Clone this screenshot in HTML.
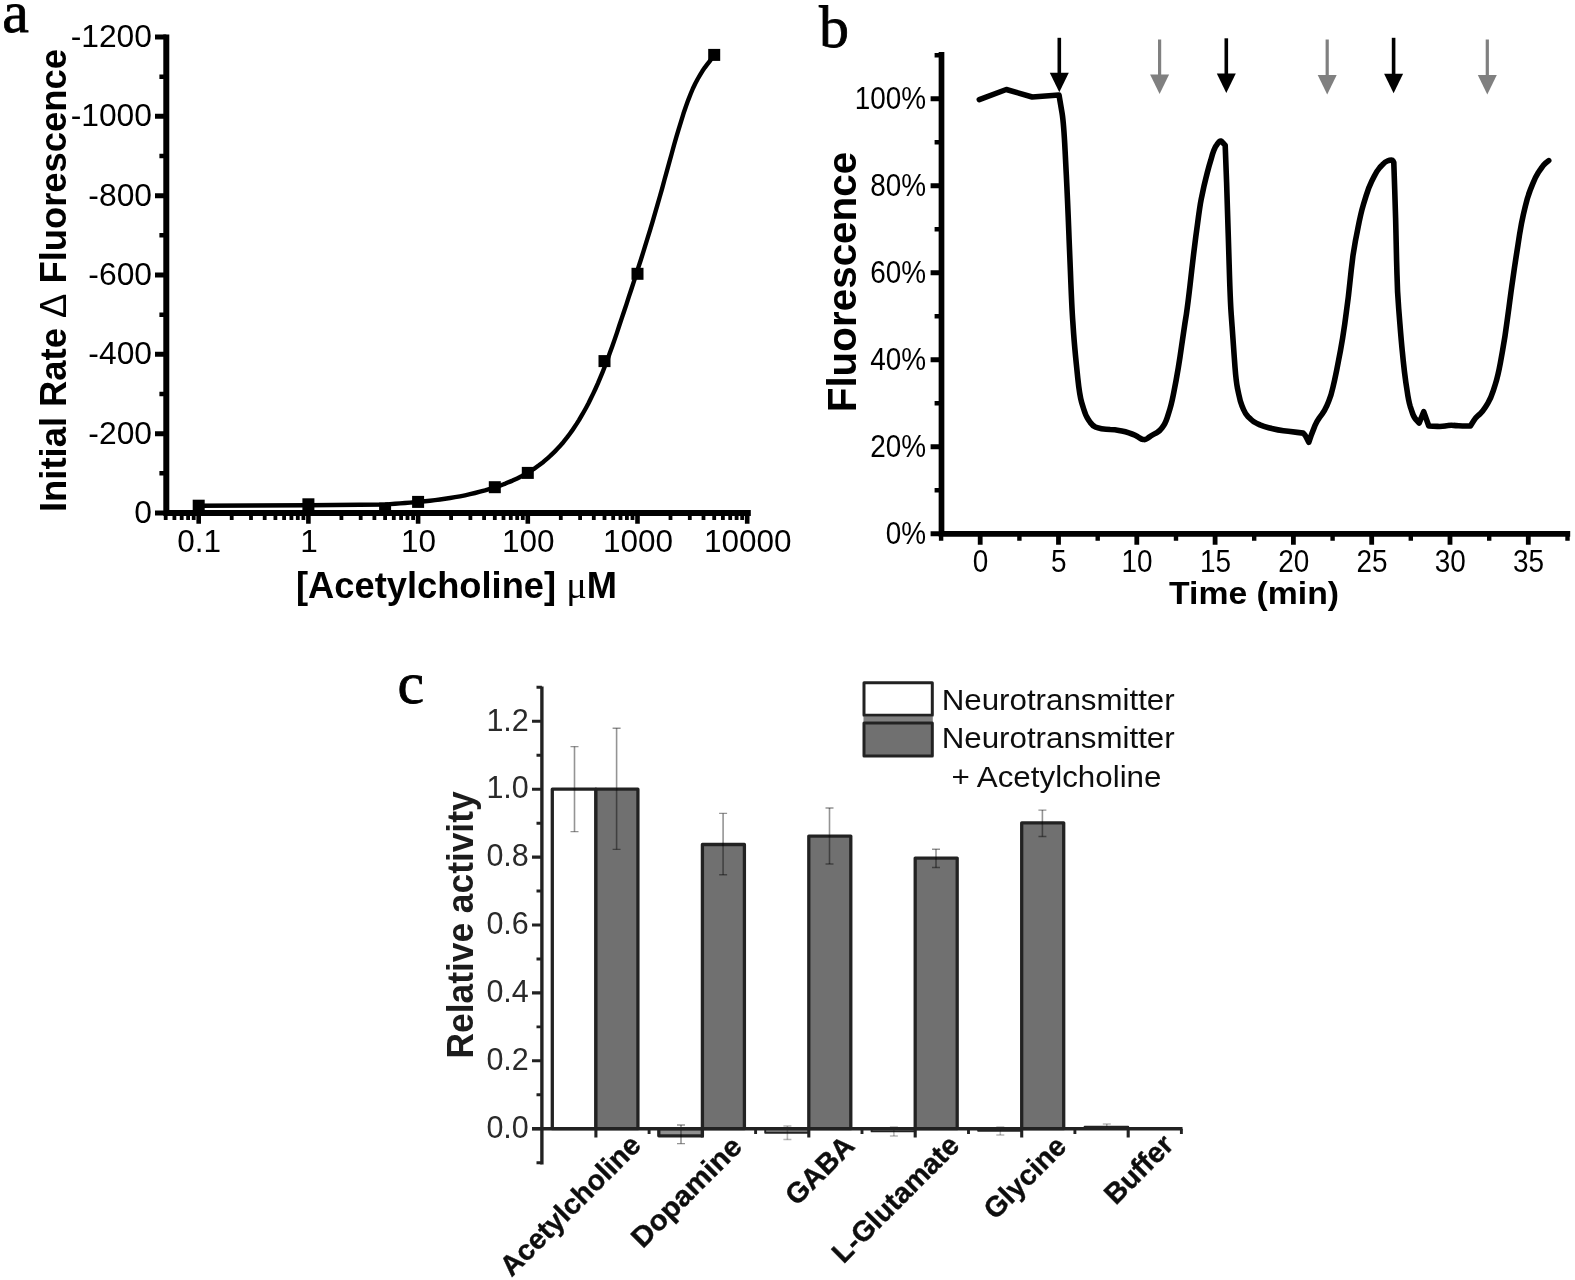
<!DOCTYPE html>
<html><head><meta charset="utf-8"><title>Figure</title>
<style>html,body{margin:0;padding:0;background:#fff;}svg{display:block;}</style></head>
<body><svg width="1575" height="1280" viewBox="0 0 1575 1280">
<defs><filter id="soft" x="0" y="0" width="1575" height="1280" filterUnits="userSpaceOnUse"><feGaussianBlur stdDeviation="0.6"/></filter></defs>
<rect width="1575" height="1280" fill="#fff"/>
<g filter="url(#soft)">
<g id="pa" stroke="#000" fill="none">
<path d="M166.3 34.4 V516.0 M163.3 513.0 H750.8" stroke-width="6.0"/>
<path d="M155 513.0 H166.3 M155 433.7 H166.3 M155 354.3 H166.3 M155 275.0 H166.3 M155 195.7 H166.3 M155 116.3 H166.3 M155 37.0 H166.3 " stroke-width="5.0"/>
<path d="M159.4 473.3 H166.3 M159.4 394.0 H166.3 M159.4 314.7 H166.3 M159.4 235.3 H166.3 M159.4 156.0 H166.3 M159.4 76.7 H166.3 " stroke-width="4.6"/>
<path d="M198.7 513.0 V523.7 M308.4 513.0 V523.7 M418.1 513.0 V523.7 M527.8 513.0 V523.7 M637.5 513.0 V523.7 M747.2 513.0 V523.7 " stroke-width="4.6"/>
<path d="M165.7 513.0 V520 M174.4 513.0 V520 M181.7 513.0 V520 M188.1 513.0 V520 M193.7 513.0 V520 M231.7 513.0 V520 M251.0 513.0 V520 M264.7 513.0 V520 M275.4 513.0 V520 M284.1 513.0 V520 M291.4 513.0 V520 M297.8 513.0 V520 M303.4 513.0 V520 M341.4 513.0 V520 M360.7 513.0 V520 M374.4 513.0 V520 M385.1 513.0 V520 M393.8 513.0 V520 M401.1 513.0 V520 M407.5 513.0 V520 M413.1 513.0 V520 M451.1 513.0 V520 M470.4 513.0 V520 M484.1 513.0 V520 M494.8 513.0 V520 M503.5 513.0 V520 M510.8 513.0 V520 M517.2 513.0 V520 M522.8 513.0 V520 M560.8 513.0 V520 M580.1 513.0 V520 M593.8 513.0 V520 M604.5 513.0 V520 M613.2 513.0 V520 M620.5 513.0 V520 M626.9 513.0 V520 M632.5 513.0 V520 M670.5 513.0 V520 M689.8 513.0 V520 M703.5 513.0 V520 M714.2 513.0 V520 M722.9 513.0 V520 M730.2 513.0 V520 M736.6 513.0 V520 M742.2 513.0 V520 " stroke-width="3.8"/>
<polyline points="198.7,505.8 308.4,505.2 385.0,504.5 390.0,504.1 395.0,503.8 400.0,503.4 405.0,503.0 410.0,502.6 415.0,502.2 420.0,501.7 425.0,501.2 430.0,500.7 435.0,500.1 440.0,499.5 445.0,498.8 450.0,498.0 455.0,497.2 460.0,496.3 465.0,495.3 470.0,494.2 475.0,493.0 480.0,491.7 485.0,490.4 490.0,488.9 495.0,487.3 500.0,485.6 503.0,484.5 505.4,483.6 507.7,482.6 510.1,481.6 512.5,480.6 514.9,479.5 517.2,478.4 519.6,477.2 522.0,476.0 524.4,474.7 526.7,473.3 529.1,471.9 531.5,470.4 533.9,468.9 536.2,467.2 538.6,465.5 541.0,463.7 543.4,461.9 545.7,459.9 548.1,457.8 550.5,455.7 552.9,453.4 555.2,451.1 557.6,448.6 560.0,446.0 562.4,443.3 564.7,440.4 567.1,437.4 569.5,434.2 571.9,430.9 574.2,427.5 576.6,423.9 579.0,420.1 581.3,416.1 583.7,412.0 586.1,407.7 588.5,403.2 590.8,398.5 593.2,393.6 595.6,388.5 598.0,383.1 600.3,377.6 602.7,371.8 605.1,365.8 607.5,359.6 609.8,353.1 612.2,346.5 614.6,339.6 617.0,332.6 619.3,325.5 621.7,318.4 624.1,311.2 626.5,304.1 628.8,296.9 631.2,289.7 633.6,282.4 636.0,275.1 638.3,267.7 640.7,260.3 643.1,252.7 645.4,245.1 647.8,237.4 650.2,229.6 652.6,221.6 654.9,213.6 657.3,205.4 659.7,197.0 662.1,188.6 664.4,180.0 666.8,171.3 669.2,162.6 671.6,154.0 673.9,145.5 676.3,137.2 678.7,129.1 681.1,121.3 683.4,113.8 685.8,106.7 688.2,100.1 690.6,94.0 692.9,88.5 695.3,83.5 697.7,79.0 700.1,74.9 702.4,71.1 704.8,67.6 707.2,64.4 709.6,61.3 711.9,58.2 714.3,55.2" stroke-width="4.4" stroke-linejoin="round"/>
<rect x="192.7" y="499.7" width="12" height="12" fill="#000" stroke="none"/>
<rect x="302.4" y="498.3" width="12" height="12" fill="#000" stroke="none"/>
<rect x="379.1" y="502.6" width="12" height="12" fill="#000" stroke="none"/>
<rect x="412.1" y="495.9" width="12" height="12" fill="#000" stroke="none"/>
<rect x="488.8" y="481.2" width="12" height="12" fill="#000" stroke="none"/>
<rect x="521.8" y="466.9" width="12" height="12" fill="#000" stroke="none"/>
<rect x="598.5" y="355.1" width="12" height="12" fill="#000" stroke="none"/>
<rect x="631.5" y="267.8" width="12" height="12" fill="#000" stroke="none"/>
<rect x="708.2" y="48.9" width="12" height="12" fill="#000" stroke="none"/>
</g>
<g font-family='"Liberation Sans", sans-serif' font-size="31.5" fill="#000">
<text transform="translate(152 522.8) scale(1.01 1)" text-anchor="end">0</text>
<text transform="translate(152 443.5) scale(1.01 1)" text-anchor="end">-200</text>
<text transform="translate(152 364.1) scale(1.01 1)" text-anchor="end">-400</text>
<text transform="translate(152 284.8) scale(1.01 1)" text-anchor="end">-600</text>
<text transform="translate(152 205.5) scale(1.01 1)" text-anchor="end">-800</text>
<text transform="translate(152 126.1) scale(1.01 1)" text-anchor="end">-1000</text>
<text transform="translate(152 46.8) scale(1.01 1)" text-anchor="end">-1200</text>
<text x="199.2" y="551.5" text-anchor="middle">0.1</text>
<text x="308.9" y="551.5" text-anchor="middle">1</text>
<text x="418.6" y="551.5" text-anchor="middle">10</text>
<text x="528.3" y="551.5" text-anchor="middle">100</text>
<text x="638.0" y="551.5" text-anchor="middle">1000</text>
<text x="747.7" y="551.5" text-anchor="middle">10000</text>
</g>
<text transform="translate(65.5 512) rotate(-90)" font-family='"Liberation Sans", sans-serif' font-weight="bold" font-size="36" textLength="463" lengthAdjust="spacingAndGlyphs">Initial Rate <tspan font-weight="normal">Δ</tspan> Fluorescence</text>
<text x="296" y="597.5" font-family='"Liberation Sans", sans-serif' font-weight="bold" font-size="36" textLength="321" lengthAdjust="spacingAndGlyphs">[Acetylcholine] <tspan font-family='"Liberation Serif", serif' font-weight="normal" font-size="38">μ</tspan>M</text>
<text x="2.3" y="32.4" font-family='"Liberation Serif", serif' font-size="60" stroke="#000" stroke-width="0.8">a</text>
<g id="pb" stroke="#000" fill="none">
<path d="M941.5 52 V536.65 M938.65 533.8 H1570.2" stroke-width="5.7"/>
<path d="M930.6 533.8 H941.5 M930.6 446.8 H941.5 M930.6 359.8 H941.5 M930.6 272.8 H941.5 M930.6 185.8 H941.5 M930.6 98.8 H941.5 " stroke-width="5.0"/>
<path d="M934.6 490.3 H941.5 M934.6 403.3 H941.5 M934.6 316.3 H941.5 M934.6 229.3 H941.5 M934.6 142.3 H941.5 M934.6 55.3 H941.5 " stroke-width="4.6"/>
<path d="M980.2 533.8 V544.8 M1058.5 533.8 V544.8 M1136.8 533.8 V544.8 M1215.1 533.8 V544.8 M1293.4 533.8 V544.8 M1371.7 533.8 V544.8 M1450.0 533.8 V544.8 M1528.3 533.8 V544.8 " stroke-width="4.8"/>
<path d="M941.1 533.8 V540.8 M1019.4 533.8 V540.8 M1097.7 533.8 V540.8 M1176.0 533.8 V540.8 M1254.2 533.8 V540.8 M1332.6 533.8 V540.8 M1410.8 533.8 V540.8 M1489.2 533.8 V540.8 M1567.5 533.8 V540.8 " stroke-width="4.4"/>
<path d="M979.3 99.6 L1006.3 89.5 L1032.2 97.0 L1059.0 95.0 L1062.1 113.2 Q1063.7 123.0 1065.1 150.8 L1066.3 174.5 Q1067.7 202.3 1069.1 239.3 L1070.4 271.0 Q1071.8 308.0 1072.8 321.5 L1073.6 333.2 Q1074.6 346.7 1076.3 363.8 L1077.8 378.4 Q1079.6 395.5 1081.7 402.6 L1083.6 408.8 Q1085.7 415.9 1088.2 419.4 L1090.3 422.5 Q1092.8 426.0 1095.7 427.1 L1098.1 427.9 Q1101.0 429.0 1106.0 429.2 L1110.2 429.5 Q1115.2 429.7 1118.8 430.4 L1121.8 431.0 Q1125.4 431.7 1128.9 432.9 L1132.0 434.0 Q1135.5 435.2 1137.6 436.6 L1139.5 437.8 Q1141.6 439.2 1143.0 439.4 L1144.3 439.6 Q1145.7 439.8 1147.5 438.4 L1149.0 437.2 Q1150.8 435.8 1154.0 434.1 L1156.7 432.7 Q1159.9 431.0 1162.0 427.9 L1163.9 425.1 Q1166.0 422.0 1168.1 414.9 L1170.0 408.7 Q1172.1 401.6 1174.2 390.2 L1176.1 380.4 Q1178.2 369.0 1180.0 357.0 L1181.5 346.6 Q1183.3 334.6 1184.9 323.5 L1186.4 314.1 Q1188.0 303.0 1190.0 285.5 L1191.7 270.5 Q1193.7 253.0 1195.8 236.7 L1197.7 222.6 Q1199.8 206.3 1201.2 199.2 L1202.5 193.1 Q1203.9 186.0 1205.7 179.0 L1207.2 173.0 Q1209.0 166.0 1210.8 160.2 L1212.2 155.2 Q1214.0 149.4 1215.2 147.3 L1216.3 145.6 Q1217.5 143.5 1218.7 142.4 L1219.6 141.4 Q1220.8 140.3 1222.3 142.1 L1225.2 145.4 L1226.6 182.4 Q1227.3 202.3 1228.3 236.5 L1229.2 265.8 Q1230.2 300.0 1231.2 314.2 L1232.1 326.5 Q1233.1 340.7 1234.1 354.9 L1235.0 367.1 Q1236.1 381.3 1237.5 388.4 L1238.8 394.5 Q1240.2 401.6 1242.0 405.9 L1243.5 409.5 Q1245.3 413.8 1248.1 416.7 L1250.6 419.1 Q1253.4 422.0 1257.0 423.5 L1260.0 424.9 Q1263.6 426.4 1268.6 427.7 L1272.8 428.7 Q1277.8 430.0 1283.5 430.7 L1288.3 431.3 Q1294.0 432.0 1297.2 432.4 L1303.2 433.1 L1304.5 434.5 Q1305.2 435.2 1306.5 437.7 L1308.8 442.3 L1311.1 435.7 Q1312.4 432.1 1313.8 428.6 L1315.0 425.5 Q1316.4 422.0 1319.3 417.9 L1321.9 414.4 Q1324.8 410.3 1327.0 405.3 L1328.8 401.0 Q1331.0 396.0 1332.9 387.5 L1334.6 380.1 Q1336.5 371.6 1338.6 360.2 L1340.5 350.4 Q1342.6 339.0 1344.7 324.3 L1346.4 311.7 Q1348.5 297.0 1349.9 282.6 L1351.2 270.4 Q1352.6 256.0 1355.4 241.1 L1357.9 228.3 Q1360.7 213.4 1363.5 204.2 L1366.0 196.2 Q1368.8 187.0 1371.7 181.3 L1374.1 176.4 Q1377.0 170.7 1379.8 167.5 L1382.3 164.8 Q1385.1 161.6 1387.6 160.9 L1389.7 160.3 Q1392.2 159.6 1392.8 160.7 L1393.8 162.6 L1394.7 189.1 Q1395.2 203.3 1395.6 217.9 L1395.9 230.4 Q1396.3 245.0 1396.6 261.0 L1397.0 274.8 Q1397.3 290.8 1398.7 308.6 L1399.9 323.8 Q1401.3 341.6 1402.4 352.3 L1403.3 361.4 Q1404.4 372.1 1405.8 382.1 L1407.1 390.6 Q1408.5 400.6 1410.2 406.3 L1411.8 411.1 Q1413.5 416.8 1415.5 419.0 L1419.2 423.0 L1423.7 411.7 L1428.8 426.0 L1437.4 426.4 Q1442.0 426.6 1445.2 426.0 L1447.9 425.6 Q1451.1 425.0 1453.6 425.4 L1455.8 425.6 Q1458.3 426.0 1462.5 426.0 L1470.4 426.0 L1473.7 420.7 Q1475.5 417.8 1478.0 415.7 L1480.1 413.8 Q1482.6 411.7 1485.5 407.1 L1487.9 403.1 Q1490.8 398.5 1493.3 390.7 L1495.4 384.0 Q1497.9 376.2 1500.4 362.7 L1502.5 351.1 Q1505.0 337.6 1507.1 321.2 L1509.0 307.2 Q1511.1 290.8 1512.9 278.6 L1514.4 268.2 Q1516.2 256.0 1518.0 244.7 L1519.5 234.9 Q1521.3 223.6 1523.4 214.4 L1525.3 206.4 Q1527.4 197.2 1530.2 190.1 L1532.7 183.9 Q1535.5 176.8 1538.3 172.5 L1540.8 168.9 Q1543.6 164.6 1545.4 163.2 L1548.7 160.6" stroke-width="5.6" stroke-linejoin="round" stroke-linecap="round"/>
</g>
<path d="M1059.3 37.8 V80.3" stroke="#000" stroke-width="3.6" fill="none"/><path d="M1049.8 72.8 H1068.8 L1059.3 92.3 Z" fill="#000"/>
<path d="M1226.3 38.3 V81" stroke="#000" stroke-width="3.6" fill="none"/><path d="M1216.8 73.5 H1235.8 L1226.3 93 Z" fill="#000"/>
<path d="M1393.6 37.8 V81.2" stroke="#000" stroke-width="3.6" fill="none"/><path d="M1384.1 73.7 H1403.1 L1393.6 93.2 Z" fill="#000"/>
<path d="M1159.6 39.5 V82" stroke="#808080" stroke-width="3.2" fill="none"/><path d="M1150.1 74.5 H1169.1 L1159.6 94 Z" fill="#808080"/>
<path d="M1327.2 39.5 V82.5" stroke="#808080" stroke-width="3.2" fill="none"/><path d="M1317.7 75.0 H1336.7 L1327.2 94.5 Z" fill="#808080"/>
<path d="M1487.3 39.5 V82.5" stroke="#808080" stroke-width="3.2" fill="none"/><path d="M1477.8 75.0 H1496.8 L1487.3 94.5 Z" fill="#808080"/>
<g font-family='"Liberation Sans", sans-serif' font-size="31" fill="#000">
<text transform="translate(926 543.8) scale(0.9 1)" text-anchor="end">0%</text>
<text transform="translate(926 456.8) scale(0.9 1)" text-anchor="end">20%</text>
<text transform="translate(926 369.8) scale(0.9 1)" text-anchor="end">40%</text>
<text transform="translate(926 282.8) scale(0.9 1)" text-anchor="end">60%</text>
<text transform="translate(926 195.8) scale(0.9 1)" text-anchor="end">80%</text>
<text transform="translate(926 108.8) scale(0.9 1)" text-anchor="end">100%</text>
<text transform="translate(980.5 571.6) scale(0.9 1)" text-anchor="middle">0</text>
<text transform="translate(1058.8 571.6) scale(0.9 1)" text-anchor="middle">5</text>
<text transform="translate(1137.1 571.6) scale(0.9 1)" text-anchor="middle">10</text>
<text transform="translate(1215.4 571.6) scale(0.9 1)" text-anchor="middle">15</text>
<text transform="translate(1293.7 571.6) scale(0.9 1)" text-anchor="middle">20</text>
<text transform="translate(1372.0 571.6) scale(0.9 1)" text-anchor="middle">25</text>
<text transform="translate(1450.3 571.6) scale(0.9 1)" text-anchor="middle">30</text>
<text transform="translate(1528.6 571.6) scale(0.9 1)" text-anchor="middle">35</text>
</g>
<text transform="translate(856.2 412.3) rotate(-90)" font-family='"Liberation Sans", sans-serif' font-weight="bold" font-size="40" textLength="260.5" lengthAdjust="spacingAndGlyphs">Fluorescence</text>
<text x="1169" y="603.8" font-family='"Liberation Sans", sans-serif' font-weight="bold" font-size="30.5" textLength="170" lengthAdjust="spacingAndGlyphs">Time (min)</text>
<text x="819" y="47" font-family='"Liberation Serif", serif' font-size="60" stroke="#000" stroke-width="0.8">b</text>
<g id="pc" stroke="#242424" fill="none" stroke-linejoin="round">
<rect x="552.3" y="789.2" width="43.6" height="339.5" fill="#fff" stroke-width="3.3"/>
<rect x="595.9" y="789.2" width="42.0" height="339.5" fill="#707070" stroke-width="3.3"/>
<rect x="658.8" y="1128.7" width="43.6" height="7.1" fill="#909090" stroke-width="3.3"/>
<rect x="702.4" y="844.5" width="42.0" height="284.2" fill="#707070" stroke-width="3.3"/>
<rect x="765.2" y="1128.7" width="43.6" height="4.1" fill="#909090" stroke-width="1.9"/>
<rect x="808.8" y="836.1" width="42.0" height="292.6" fill="#707070" stroke-width="3.3"/>
<rect x="871.6" y="1128.7" width="43.6" height="2.7" fill="#909090" stroke-width="1.9"/>
<rect x="915.2" y="858.1" width="42.0" height="270.6" fill="#707070" stroke-width="3.3"/>
<rect x="978.1" y="1128.7" width="43.6" height="2.0" fill="#909090" stroke-width="1.9"/>
<rect x="1021.7" y="822.8" width="42.0" height="305.9" fill="#707070" stroke-width="3.3"/>
<rect x="1084.6" y="1126.7" width="43.6" height="2.0" fill="#909090" stroke-width="1.9"/>
<path d="M574.5 746.6 V831.6" stroke="#000" stroke-opacity="0.42" stroke-width="1.6"/><path d="M570.5 746.6 h8 M570.5 831.6 h8" stroke="#000" stroke-opacity="0.42" stroke-width="1.4"/>
<path d="M616.6 728.3 V849.4" stroke="#000" stroke-opacity="0.42" stroke-width="1.6"/><path d="M612.6 728.3 h8 M612.6 849.4 h8" stroke="#000" stroke-opacity="0.42" stroke-width="1.4"/>
<path d="M681.0 1125 V1143.6" stroke="#000" stroke-opacity="0.42" stroke-width="1.6"/><path d="M677.0 1125 h8 M677.0 1143.6 h8" stroke="#000" stroke-opacity="0.42" stroke-width="1.4"/>
<path d="M723.1 813.4 V874.8" stroke="#000" stroke-opacity="0.42" stroke-width="1.6"/><path d="M719.1 813.4 h8 M719.1 874.8 h8" stroke="#000" stroke-opacity="0.42" stroke-width="1.4"/>
<path d="M787.4 1126 V1139.5" stroke="#000" stroke-opacity="0.28" stroke-width="1.6"/><path d="M783.4 1126 h8 M783.4 1139.5 h8" stroke="#000" stroke-opacity="0.28" stroke-width="1.4"/>
<path d="M829.5 808 V864" stroke="#000" stroke-opacity="0.42" stroke-width="1.6"/><path d="M825.5 808 h8 M825.5 864 h8" stroke="#000" stroke-opacity="0.42" stroke-width="1.4"/>
<path d="M893.9 1127 V1136" stroke="#000" stroke-opacity="0.28" stroke-width="1.6"/><path d="M889.9 1127 h8 M889.9 1136 h8" stroke="#000" stroke-opacity="0.28" stroke-width="1.4"/>
<path d="M936.0 849.3 V867.5" stroke="#000" stroke-opacity="0.42" stroke-width="1.6"/><path d="M932.0 849.3 h8 M932.0 867.5 h8" stroke="#000" stroke-opacity="0.42" stroke-width="1.4"/>
<path d="M1000.3 1127 V1135" stroke="#000" stroke-opacity="0.28" stroke-width="1.6"/><path d="M996.3 1127 h8 M996.3 1135 h8" stroke="#000" stroke-opacity="0.28" stroke-width="1.4"/>
<path d="M1042.4 810.1 V836.5" stroke="#000" stroke-opacity="0.42" stroke-width="1.6"/><path d="M1038.4 810.1 h8 M1038.4 836.5 h8" stroke="#000" stroke-opacity="0.42" stroke-width="1.4"/>
<path d="M1106.8 1124 V1128" stroke="#000" stroke-opacity="0.28" stroke-width="1.6"/><path d="M1102.8 1124 h8 M1102.8 1128 h8" stroke="#000" stroke-opacity="0.28" stroke-width="1.4"/>
<path d="M541.9 686.5 V1164.5" stroke-width="3.4"/>
<path d="M532 1128.7 H1182.5" stroke-width="3.4"/>
<path d="M532 1128.7 H541.9 M532 1060.8 H541.9 M532 992.9 H541.9 M532 925.0 H541.9 M532 857.1 H541.9 M532 789.2 H541.9 M532 721.3 H541.9 " stroke-width="3.1"/>
<path d="M536.5 1162.7 H541.9 M536.5 1094.8 H541.9 M536.5 1026.9 H541.9 M536.5 959.0 H541.9 M536.5 891.0 H541.9 M536.5 823.2 H541.9 M536.5 755.2 H541.9 M536.5 687.3 H541.9 " stroke-width="2.9"/>
<path d="M595.9 1128.7 V1137.5 M702.4 1128.7 V1137.5 M808.8 1128.7 V1137.5 M915.2 1128.7 V1137.5 M1021.7 1128.7 V1137.5 M1128.2 1128.7 V1137.5 " stroke-width="3.1"/>
<path d="M649.1 1128.7 V1134 M755.6 1128.7 V1134 M862.0 1128.7 V1134 M968.5 1128.7 V1134 M1074.9 1128.7 V1134 M1181.4 1128.7 V1134 " stroke-width="2.9"/>
<rect x="863.5" y="717" width="69.3" height="5" fill="#808080" stroke="none"/>
<rect x="864" y="682.7" width="68.3" height="32.6" fill="#fff" stroke-width="3"/>
<rect x="864" y="723.1" width="68.3" height="32.8" fill="#707070" stroke-width="3"/>
</g>
<g font-family='"Liberation Sans", sans-serif' font-size="30.5" fill="#2a2a2a">
<text x="528.8" y="1137.9" text-anchor="end">0.0</text>
<text x="528.8" y="1070.0" text-anchor="end">0.2</text>
<text x="528.8" y="1002.1" text-anchor="end">0.4</text>
<text x="528.8" y="934.2" text-anchor="end">0.6</text>
<text x="528.8" y="866.3" text-anchor="end">0.8</text>
<text x="528.8" y="798.4" text-anchor="end">1.0</text>
<text x="528.8" y="730.5" text-anchor="end">1.2</text>
</g>
<g font-family='"Liberation Sans", sans-serif' font-size="30" fill="#111">
<text x="941.7" y="710.3" textLength="233" lengthAdjust="spacingAndGlyphs">Neurotransmitter</text>
<text x="941.7" y="748.3" textLength="233" lengthAdjust="spacingAndGlyphs">Neurotransmitter</text>
<text x="951.5" y="787" textLength="210" lengthAdjust="spacingAndGlyphs">+ Acetylcholine</text>
</g>
<text transform="translate(472.6 1058.4) rotate(-90)" font-family='"Liberation Sans", sans-serif' font-weight="bold" font-size="36.5" fill="#1a1a1a" textLength="267" lengthAdjust="spacingAndGlyphs">Relative activity</text>
<text transform="translate(642.5 1146.8) rotate(-45)" text-anchor="end" font-family='"Liberation Sans", sans-serif' font-weight="bold" font-size="28.5" fill="#111" stroke="#111" stroke-width="0.4">Acetylcholine</text>
<text transform="translate(743.5 1148.4) rotate(-45)" text-anchor="end" font-family='"Liberation Sans", sans-serif' font-weight="bold" font-size="28.5" fill="#111" stroke="#111" stroke-width="0.4" textLength="142.5" lengthAdjust="spacingAndGlyphs">Dopamine</text>
<text transform="translate(856 1147.5) rotate(-45)" text-anchor="end" font-family='"Liberation Sans", sans-serif' font-weight="bold" font-size="28.5" fill="#111" stroke="#111" stroke-width="0.4">GABA</text>
<text transform="translate(961 1147) rotate(-45)" text-anchor="end" font-family='"Liberation Sans", sans-serif' font-weight="bold" font-size="28.5" fill="#111" stroke="#111" stroke-width="0.4">L-Glutamate</text>
<text transform="translate(1068 1148) rotate(-45)" text-anchor="end" font-family='"Liberation Sans", sans-serif' font-weight="bold" font-size="28.5" fill="#111" stroke="#111" stroke-width="0.4">Glycine</text>
<text transform="translate(1175 1146.5) rotate(-45)" text-anchor="end" font-family='"Liberation Sans", sans-serif' font-weight="bold" font-size="28.5" fill="#111" stroke="#111" stroke-width="0.4">Buffer</text>
<text x="397.5" y="703" font-family='"Liberation Serif", serif' font-size="60" stroke="#000" stroke-width="0.8">c</text>
</g>
</svg></body></html>
